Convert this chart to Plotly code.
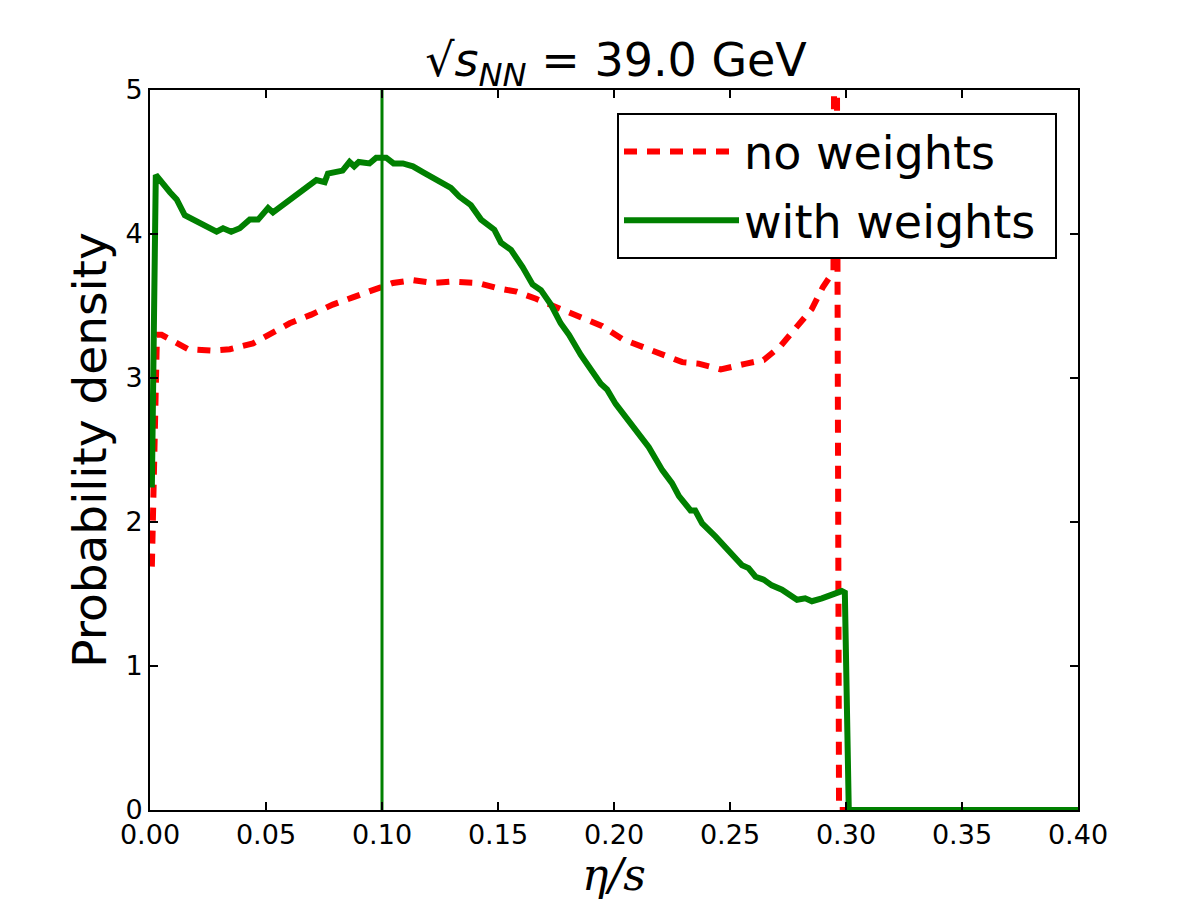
import plotly.graph_objects as go

# eta/s values and probability densities
x_no_w = [0.0008, 0.0030, 0.0050, 0.0086, 0.0165, 0.0265, 0.0344, 0.0444, 0.0516, 0.0602,
          0.0695, 0.0788, 0.0874, 0.0970, 0.1047, 0.1133, 0.1220, 0.1305, 0.1413, 0.1506,
          0.1580, 0.1664, 0.1757, 0.1850, 0.1950, 0.2036, 0.2122, 0.2200, 0.2294, 0.2365,
          0.2460, 0.2570, 0.2645, 0.2717, 0.2780, 0.2853, 0.2900, 0.2946, 0.2955, 0.2970,
          0.3000, 0.4000]
y_no_w = [1.69, 3.30, 3.30, 3.27, 3.20, 3.19, 3.20, 3.24, 3.30, 3.38,
          3.44, 3.51, 3.56, 3.61, 3.66, 3.68, 3.66, 3.67, 3.66, 3.62,
          3.60, 3.55, 3.49, 3.42, 3.36, 3.27, 3.22, 3.17, 3.11, 3.10,
          3.06, 3.10, 3.125, 3.22, 3.34, 3.48, 3.63, 3.74, 8.50, 0.0,
          0.0, 0.0]

x_w = [0.0008, 0.0025, 0.0086, 0.0115, 0.0150, 0.0208, 0.0244, 0.0287, 0.0315, 0.0350,
       0.0387, 0.0430, 0.0466, 0.0509, 0.0530, 0.0588, 0.0630, 0.0674, 0.0717, 0.0753,
       0.0767, 0.0830, 0.0860, 0.0880, 0.0900, 0.0946, 0.0975, 0.1018, 0.1050, 0.1090,
       0.1133, 0.1176, 0.1200, 0.1247, 0.1297, 0.1333, 0.1383, 0.1427, 0.1484, 0.1513,
       0.1556, 0.1606, 0.1649, 0.1685, 0.1728, 0.1770, 0.1806, 0.1857, 0.1900, 0.1943,
       0.1970, 0.2007, 0.2050, 0.2086, 0.2150, 0.2208, 0.2250, 0.2280, 0.2330, 0.2350,
       0.2380, 0.2437, 0.2473, 0.2510, 0.2552, 0.2580, 0.2610, 0.2645, 0.2680, 0.2724,
       0.2760, 0.2789, 0.2824, 0.2853, 0.2896, 0.2939, 0.2982, 0.2995, 0.3012, 0.4000]
y_w = [2.24, 4.41, 4.29, 4.24, 4.13, 4.085, 4.06, 4.016, 4.04, 4.016,
       4.04, 4.10, 4.10, 4.18, 4.15, 4.22, 4.27, 4.33, 4.375, 4.36,
       4.42, 4.44, 4.50, 4.47, 4.50, 4.49, 4.53, 4.53, 4.49, 4.49,
       4.47, 4.43, 4.41, 4.36, 4.32, 4.26, 4.20, 4.10, 4.03, 3.94,
       3.89, 3.77, 3.65, 3.61, 3.51, 3.38, 3.30, 3.16, 3.06, 2.96,
       2.92, 2.82, 2.73, 2.66, 2.52, 2.36, 2.27, 2.18, 2.08, 2.08,
       1.99, 1.90, 1.84, 1.77, 1.70, 1.68, 1.62, 1.60, 1.56, 1.53,
       1.49, 1.46, 1.47, 1.45, 1.47, 1.49, 1.52, 1.51, 0.0, 0.0]

vline_x = [0.1, 0.1]
vline_y = [0, 5]

x_ticks = [0.00, 0.05, 0.10, 0.15, 0.20, 0.25, 0.30, 0.35, 0.40]
y_ticks = [0, 1, 2, 3, 4, 5]

fig = go.Figure()
fig.add_trace(go.Scatter(x=x_no_w, y=y_no_w, mode="lines", name="no weights\u00a0",
                         legendgroup="a",
                         line=dict(color="red", width=6, dash="13px,10px")))
fig.add_trace(go.Scatter(x=x_w, y=y_w, mode="lines", name="with weights\u00a0",
                         legendgroup="b",
                         line=dict(color="green", width=6)))
fig.add_trace(go.Scatter(x=vline_x, y=vline_y, mode="lines", showlegend=False,
                         line=dict(color="green", width=3)))

axis_common = dict(showline=True, linecolor="black", linewidth=2, mirror="ticks",
                   ticks="inside", ticklen=8, tickwidth=1.5, tickcolor="black",
                   showgrid=False, zeroline=False,
                   tickfont=dict(family="DejaVu Sans", size=27, color="black"))

fig.update_layout(
    width=1200, height=900,
    margin=dict(l=150, r=122, t=90, b=90),
    plot_bgcolor="white", paper_bgcolor="white",
    font=dict(family="DejaVu Sans", color="black"),
    title=dict(text="√<i>s</i><sub><i>NN</i></sub> = 39.0 GeV",
               x=616 / 1200, xanchor="center",
               y=1 - 60 / 900, yanchor="middle",
               font=dict(family="DejaVu Sans", size=46, color="black")),
    xaxis=dict(range=[0, 0.4], tickvals=x_ticks, tickformat=".2f",
               title=dict(text="<i>η/s</i>", font=dict(family="DejaVu Serif", size=44),
                          standoff=6),
               **axis_common),
    yaxis=dict(range=[0, 5], tickvals=y_ticks,
               title=dict(text="Probability density", font=dict(size=47), standoff=4),
               **axis_common),
    legend=dict(x=(1057 - 150) / 928, y=(810 - 113) / 720, xanchor="right", yanchor="top",
                bgcolor="white", bordercolor="black", borderwidth=2,
                font=dict(family="DejaVu Sans", size=46, color="black"),
                itemwidth=115,
                tracegroupgap=6, traceorder="grouped"),
)

fig.write_html("out.html")
